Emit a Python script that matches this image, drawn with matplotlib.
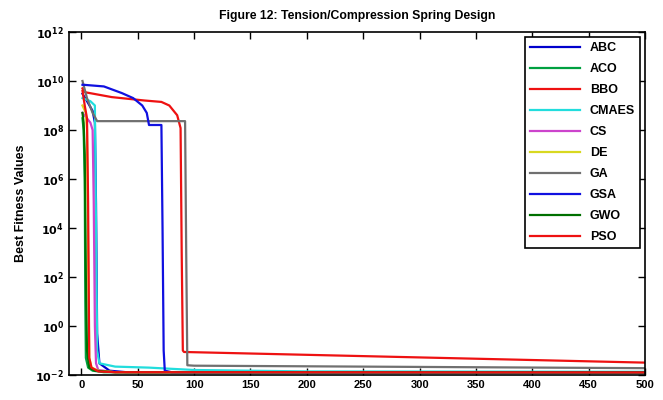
import matplotlib
matplotlib.use('Agg')
import matplotlib.pyplot as plt

plt.rcParams['font.family'] = ['Liberation Sans', 'DejaVu Sans']

# convergence curves (iteration, best fitness)
abc_x = [1, 5, 10, 12, 13, 14, 16, 25, 40, 500]
abc_y = [3e9, 1.5e9, 6e8, 2e8, 1e5, 0.5, 0.03, 0.015, 0.013, 0.0127]

aco_x = [1, 2, 3, 3.5, 4, 6, 10, 20, 500]
aco_y = [3e8, 1e8, 1e6, 10, 0.05, 0.02, 0.015, 0.013, 0.0127]

bbo_x = [1, 3, 27, 56, 71, 78, 85, 88, 89, 90, 91, 500]
bbo_y = [5e9, 3.5e9, 2.2e9, 1.6e9, 1.4e9, 1e9, 4e8, 1.2e8, 1e3, 1e-1, 0.087, 0.032]

cmaes_x = [1, 8, 12, 13, 14, 16, 30, 60, 100, 200, 500]
cmaes_y = [2e9, 1.5e9, 1e9, 1e4, 0.1, 0.03, 0.022, 0.02, 0.016, 0.014, 0.0135]

cs_x = [1, 8, 10, 11, 12, 13, 15, 30, 500]
cs_y = [5e8, 2e8, 1e8, 1e5, 1, 0.03, 0.016, 0.013, 0.0127]

de_x = [1, 4, 5, 6, 7, 9, 15, 30, 500]
de_y = [1e9, 5e8, 1e8, 1e3, 0.05, 0.02, 0.015, 0.013, 0.0127]

ga_x = [1, 5, 10, 14, 92, 93, 94, 100, 500]
ga_y = [1e10, 2e9, 5e8, 2.3e8, 2.3e8, 1e3, 0.025, 0.024, 0.019]

gsa_x = [1, 2, 20, 36, 46, 54, 58, 60, 71, 72, 73, 74, 80, 500]
gsa_y = [7e9, 7e9, 6e9, 3.2e9, 2e9, 1e9, 5e8, 1.6e8, 1.6e8, 1e4, 0.1, 0.015, 0.013, 0.0127]

gwo_x = [1, 2, 3, 4, 5, 7, 12, 30, 500]
gwo_y = [5e8, 2e8, 1e7, 1e2, 0.1, 0.02, 0.015, 0.013, 0.0127]

pso_x = [1, 3, 5, 6, 7, 9, 15, 30, 500]
pso_y = [4e9, 1e9, 3e8, 1e5, 0.05, 0.02, 0.014, 0.013, 0.0127]

names = ['ABC', 'ACO', 'BBO', 'CMAES', 'CS', 'DE', 'GA', 'GSA', 'GWO', 'PSO']
colors = ['#0000cc', '#00a040', '#ee1111', '#22dddd', '#cc44cc',
          '#d8d820', '#707070', '#1010e0', '#007000', '#ee1111']
series = [(abc_x, abc_y), (aco_x, aco_y), (bbo_x, bbo_y), (cmaes_x, cmaes_y),
          (cs_x, cs_y), (de_x, de_y), (ga_x, ga_y), (gsa_x, gsa_y),
          (gwo_x, gwo_y), (pso_x, pso_y)]

fig = plt.figure(figsize=(6.63, 4.0), dpi=100)
ax = fig.add_axes([0.104, 0.0625, 0.869, 0.8575])

for (x, y), c, n in zip(series, colors, names):
    ax.plot(x, y, color=c, lw=1.6, label=n)

ax.set_yscale('log')
ax.set_ylim(1e-2, 1e12)
ax.set_xlim(-11, 500)
ax.set_xticks(range(0, 501, 50))
ax.set_xticklabels([str(v) for v in range(0, 501, 50)], fontsize=8, fontweight='bold')
yt = [10.0 ** p for p in range(-2, 13, 2)]
ax.set_yticks(yt)
ax.set_yticklabels([r'$\mathbf{10^{%d}}$' % p for p in range(-2, 13, 2)], fontsize=8)
ax.minorticks_off()
ax.tick_params(direction='in', top=True, right=True, length=5, width=1)
for s in ax.spines.values():
    s.set_linewidth(1.2)

ax.set_title('Figure 12: Tension/Compression Spring Design', fontsize=8.8,
             fontweight='bold', pad=9)
ax.set_ylabel('Best Fitness Values', fontsize=9, fontweight='bold', labelpad=6)

leg = ax.legend(loc='upper right', prop={'weight': 'bold', 'size': 9},
                fancybox=False, edgecolor='black', framealpha=1,
                handlelength=4.0, labelspacing=0.72, borderaxespad=0.4)
leg.get_frame().set_linewidth(1.2)

fig.savefig('out.png', dpi=100)
